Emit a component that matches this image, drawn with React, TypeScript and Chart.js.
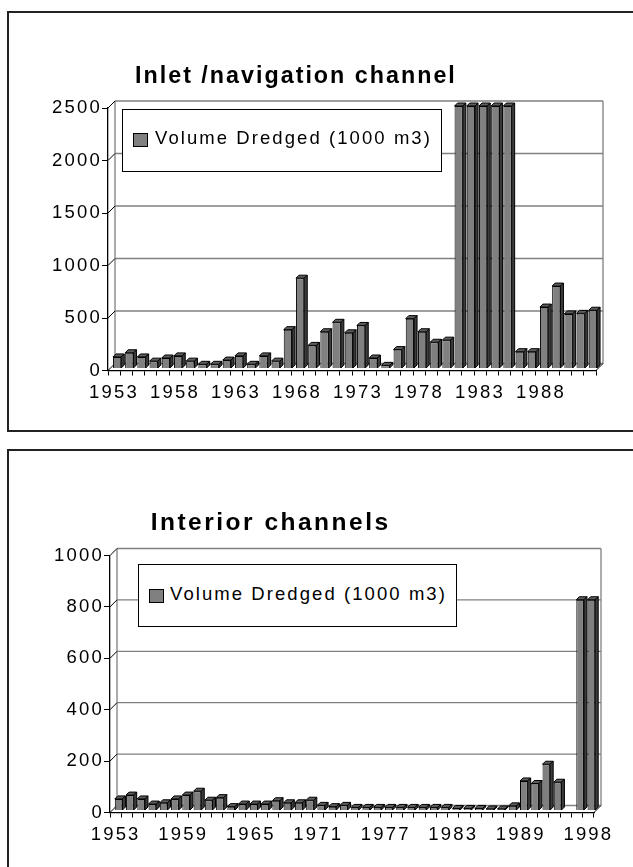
import React, { useEffect, useRef } from 'react';
import { Chart, registerables } from 'chart.js';

Chart.register(...registerables);

const FONT = '"Liberation Sans", Arial, Helvetica, sans-serif';

// ---------- data ----------
const inletTitle = 'Inlet /navigation channel';
const interiorTitle = 'Interior channels';
const seriesLabel = 'Volume Dredged (1000 m3)';

const inletYears = [
  '1953', '1954', '1955', '1956', '1957', '1958', '1959', '1960', '1961', '1962',
  '1963', '1964', '1965', '1966', '1967', '1968', '1969', '1970', '1971', '1972',
  '1973', '1974', '1975', '1976', '1977', '1978', '1979', '1980', '1981', '1982',
  '1983', '1984', '1985', '1986', '1987', '1988', '1989', '1990', '1991', '1992',
];
const inletVolume = [
  110, 150, 110, 70, 100, 120, 70, 40, 40, 80,
  120, 40, 120, 70, 370, 860, 220, 350, 440, 340,
  410, 100, 30, 180, 475, 350, 250, 270, 2500, 2500,
  2500, 2500, 2500, 160, 160, 585, 785, 520, 525, 555,
];
const inletMax = 2500;
const inletStep = 500;
const inletLabelEvery = 5;

const interiorYears = [
  '1953', '1954', '1955', '1956', '1957', '1958', '1959', '1960', '1961', '1962',
  '1963', '1964', '1965', '1966', '1967', '1968', '1969', '1970', '1971', '1972',
  '1973', '1974', '1975', '1976', '1977', '1978', '1979', '1980', '1981', '1982',
  '1983', '1984', '1985', '1986', '1987', '1988', '1989', '1990', '1991', '1992',
  '1993', '1997', '1998',
];
const interiorVolume: (number | null)[] = [
  45, 60, 45, 25, 30, 45, 60, 75, 40, 50,
  15, 25, 25, 25, 38, 30, 30, 40, 20, 15,
  20, 12, 12, 12, 12, 12, 12, 12, 12, 12,
  8, 8, 8, 6, 6, 18, 115, 105, 180, 110,
  null, 820, 820,
];
const interiorMax = 1000;
const interiorStep = 200;
const interiorLabelEvery = 6;

// ---------- 3D look plugin ----------
function excel3d(wallDepth: number, barDepth: number, shiftX: number, shiftY: number, spacing: string) {
  return {
    id: 'excel3d',
    beforeLayout(chart: any) {
      chart.ctx.letterSpacing = spacing;
    },
    beforeDraw(chart: any) {
      chart.ctx.letterSpacing = spacing;
    },
    beforeDatasetsDraw(chart: any) {
      const { ctx, chartArea } = chart;
      const { left, right, top, bottom } = chartArea;
      const ys = chart.scales.y;
      const D = wallDepth;
      ctx.save();
      ctx.lineWidth = 1.3;
      ctx.strokeStyle = '#808080';
      ctx.beginPath();
      for (const t of ys.ticks) {
        const py = ys.getPixelForValue(t.value);
        ctx.moveTo(left + D, py - D);
        ctx.lineTo(right + D, py - D);
      }
      ctx.moveTo(left + D, top - D);
      ctx.lineTo(left + D, bottom - D);
      ctx.moveTo(right + D, top - D);
      ctx.lineTo(right + D, bottom - D);
      ctx.stroke();
      ctx.strokeStyle = '#000';
      ctx.lineWidth = 1;
      ctx.beginPath();
      for (const t of ys.ticks) {
        const py = ys.getPixelForValue(t.value);
        ctx.moveTo(left, py);
        ctx.lineTo(left + D, py - D);
      }
      ctx.moveTo(right, bottom);
      ctx.lineTo(right + D, bottom - D);
      ctx.stroke();
      ctx.restore();
      ctx.save();
      ctx.translate(shiftX, -shiftY);
    },
    afterDatasetsDraw(chart: any) {
      const { ctx } = chart;
      const meta = chart.getDatasetMeta(0);
      const values = chart.data.datasets[0].data;
      const d = barDepth;
      ctx.lineWidth = 1;
      ctx.strokeStyle = '#000';
      meta.data.forEach((bar: any, i: number) => {
        if (values[i] == null) return;
        const { x, y, base, width } = bar.getProps(['x', 'y', 'base', 'width'], true);
        const l = x - width / 2;
        const r = x + width / 2;
        ctx.beginPath();
        ctx.moveTo(l, y);
        ctx.lineTo(l + d, y - d);
        ctx.lineTo(r + d, y - d);
        ctx.lineTo(r, y);
        ctx.closePath();
        ctx.fillStyle = '#5e5e5e';
        ctx.fill();
        ctx.stroke();
        ctx.beginPath();
        ctx.moveTo(r, y);
        ctx.lineTo(r + d, y - d);
        ctx.lineTo(r + d, base - d);
        ctx.lineTo(r, base);
        ctx.closePath();
        ctx.fillStyle = '#3c3c3c';
        ctx.fill();
        ctx.stroke();
      });
      ctx.restore();
    },
  };
}

function buildChart(
  canvas: HTMLCanvasElement,
  labels: string[],
  values: (number | null)[],
  max: number,
  step: number,
  every: number,
  padding: { left: number; right: number; top: number; bottom: number },
) {
  const font = { family: FONT, size: 18.5 };
  return new Chart(canvas, {
    type: 'bar',
    data: {
      labels,
      datasets: [
        {
          label: seriesLabel,
          data: values as any,
          backgroundColor: '#808080',
          borderColor: '#000',
          borderWidth: 1,
          categoryPercentage: 0.68,
          barPercentage: 1,
          clip: false as any,
        },
      ],
    },
    options: {
      animation: false,
      responsive: false,
      events: [],
      layout: { padding },
      plugins: {
        legend: { display: false },
        title: { display: false },
        tooltip: { enabled: false },
      },
      scales: {
        x: {
          grid: {
            display: true,
            drawOnChartArea: false,
            drawTicks: true,
            tickLength: 5,
            color: '#000',
            offset: true,
          },
          border: { display: true, color: '#000', width: 1.3 },
          ticks: {
            autoSkip: false,
            maxRotation: 0,
            minRotation: 0,
            padding: 6,
            color: '#000',
            font,
            callback: (_v: any, i: number) => (i % every === 0 ? labels[i] : ''),
          },
          afterFit: (s: any) => {
            s.height = 45;
          },
        },
        y: {
          min: 0,
          max,
          ticks: {
            stepSize: step,
            padding: 0,
            color: '#000',
            font,
            callback: (v: any) => String(v),
          },
          grid: { drawOnChartArea: false, drawTicks: true, tickLength: 6, color: '#000' },
          border: { display: true, color: '#000', width: 1.3 },
          afterFit: (s: any) => {
            s.width = 60;
          },
        },
      },
    },
    plugins: [excel3d(7, 3, 3, 2, '2.2px')],
  });
}

const abs = (s: React.CSSProperties): React.CSSProperties => ({ position: 'absolute', ...s });

function Legend({ left, top, swLeft, swTop, textLeft, textTop }: any) {
  return (
    <>
      <div
        style={abs({
          left,
          top,
          width: 319.5,
          height: 62.5,
          boxSizing: 'border-box',
          border: '1.2px solid #000',
          background: '#fff',
        })}
      />
      <div
        style={abs({
          left: swLeft,
          top: swTop,
          width: 14.5,
          height: 14,
          boxSizing: 'border-box',
          border: '1.5px solid #000',
          background: '#808080',
        })}
      />
      <div
        style={abs({
          left: textLeft,
          top: textTop,
          fontFamily: FONT,
          fontSize: 18.5,
          lineHeight: '18.5px',
          letterSpacing: '2.07px',
          color: '#000',
          whiteSpace: 'nowrap',
        })}
      >
        {seriesLabel}
      </div>
    </>
  );
}

export default function App() {
  const topRef = useRef<HTMLCanvasElement>(null);
  const botRef = useRef<HTMLCanvasElement>(null);

  useEffect(() => {
    const c1 = buildChart(topRef.current!, inletYears, inletVolume, inletMax, inletStep, inletLabelEvery, {
      left: 48,
      right: 37,
      top: 108,
      bottom: 24.5,
    });
    const c2 = buildChart(
      botRef.current!,
      interiorYears,
      interiorVolume,
      interiorMax,
      interiorStep,
      interiorLabelEvery,
      { left: 50, right: 39, top: 115.5, bottom: 9.5 },
    );
    return () => {
      c1.destroy();
      c2.destroy();
    };
  }, []);

  return (
    <div
      style={{
        position: 'fixed',
        left: 0,
        top: 0,
        width: 633,
        height: 867,
        overflow: 'hidden',
        background: '#fff',
      }}
    >
      {/* frames */}
      <div
        style={abs({
          left: 7,
          top: 11,
          width: 700,
          height: 420.7,
          boxSizing: 'border-box',
          borderTop: '2px solid #222',
          borderLeft: '2px solid #222',
          borderBottom: '2px solid #222',
        })}
      />
      <div
        style={abs({
          left: 7,
          top: 449,
          width: 700,
          height: 500,
          boxSizing: 'border-box',
          borderTop: '2px solid #222',
          borderLeft: '2px solid #222',
        })}
      />

      <canvas ref={topRef} width={633} height={440} style={abs({ left: 0, top: 0, display: 'block' })} />
      <canvas ref={botRef} width={633} height={427} style={abs({ left: 0, top: 440, display: 'block' })} />

      {/* titles */}
      <div
        style={abs({
          left: 135,
          top: 63.6,
          fontFamily: FONT,
          fontWeight: 'bold',
          fontSize: 23.3,
          lineHeight: '23.3px',
          letterSpacing: '2px',
          whiteSpace: 'nowrap',
          color: '#000',
        })}
      >
        {inletTitle}
      </div>
      <div
        style={abs({
          left: 150.7,
          top: 510,
          fontFamily: FONT,
          fontWeight: 'bold',
          fontSize: 24.5,
          lineHeight: '24.5px',
          letterSpacing: '2.5px',
          whiteSpace: 'nowrap',
          color: '#000',
        })}
      >
        {interiorTitle}
      </div>

      {/* legends */}
      <Legend left={122.3} top={109} swLeft={133.3} swTop={132.7} textLeft={155} textTop={128.6} />
      <Legend left={137.7} top={564.3} swLeft={149} swTop={589} textLeft={170} textTop={585.3} />
    </div>
  );
}
